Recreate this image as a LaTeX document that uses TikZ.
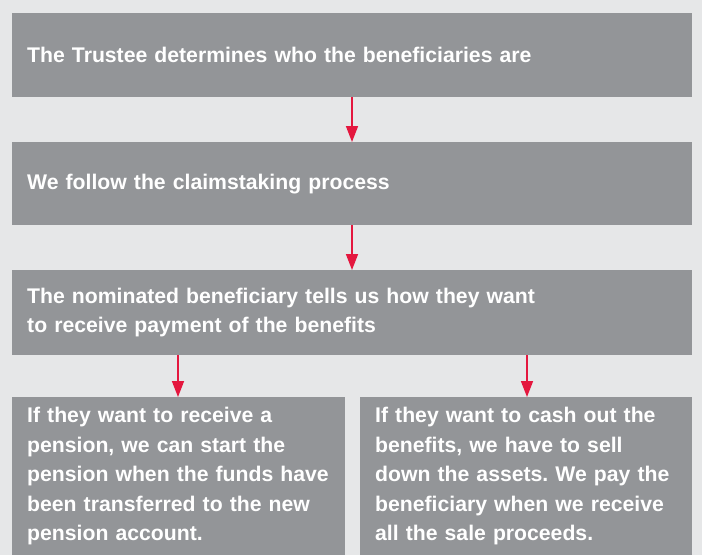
\documentclass[tikz,border=0pt]{standalone}
\usepackage{fontspec}
\setmainfont{Liberation Sans}
\usetikzlibrary{arrows.meta}
\definecolor{bgc}{HTML}{E6E7E8}
\definecolor{boxc}{HTML}{939598}
\definecolor{redc}{HTML}{E4173E}
\frenchspacing
\tikzset{
  stepbox/.style={fill=boxc, draw=none, anchor=north west, inner xsep=15pt, inner ysep=0pt,
    align=left, text=white, font=\bfseries\fontsize{21.2}{29.5}\selectfont},
  flow/.style={draw=redc, line width=1.6pt, -{Triangle[width=12pt,length=16pt]}}
}
\begin{document}
\begin{tikzpicture}[x=1pt,y=-1pt]
\fill[bgc] (0,0) rectangle (702,555);
\useasboundingbox (0,0) rectangle (702,555);
\node[stepbox, minimum width=680pt, minimum height=84pt, text width=650pt] (b1) at (12,13)
  {The Trustee determines who the beneficiaries are};
\node[stepbox, minimum width=680pt, minimum height=83pt, text width=650pt] (b2) at (12,142)
  {We follow the claimstaking process};
\node[stepbox, minimum width=680pt, minimum height=85pt, text width=650pt] (b3) at (12,270)
  {The nominated beneficiary tells us how they want\\to receive payment of the benefits};
\node[stepbox, minimum width=333pt, minimum height=158pt, text width=303pt] (b4) at (12,397)
  {If they want to receive a\\pension, we can start the\\pension when the funds have\\been transferred to the new\\pension account.};
\node[stepbox, minimum width=332pt, minimum height=158pt, text width=302pt] (b5) at (360,397)
  {If they want to cash out the\\benefits, we have to sell\\down the assets. We pay the\\beneficiary when we receive\\all the sale proceeds.};
\draw[flow] (b1.south -| 352,0) -- (b2.north -| 352,0);
\draw[flow] (b2.south -| 352,0) -- (b3.north -| 352,0);
\draw[flow] (b3.south -| 178,0) -- (b4.north -| 178,0);
\draw[flow] (b3.south -| 527,0) -- (b5.north -| 527,0);
\end{tikzpicture}
\end{document}
